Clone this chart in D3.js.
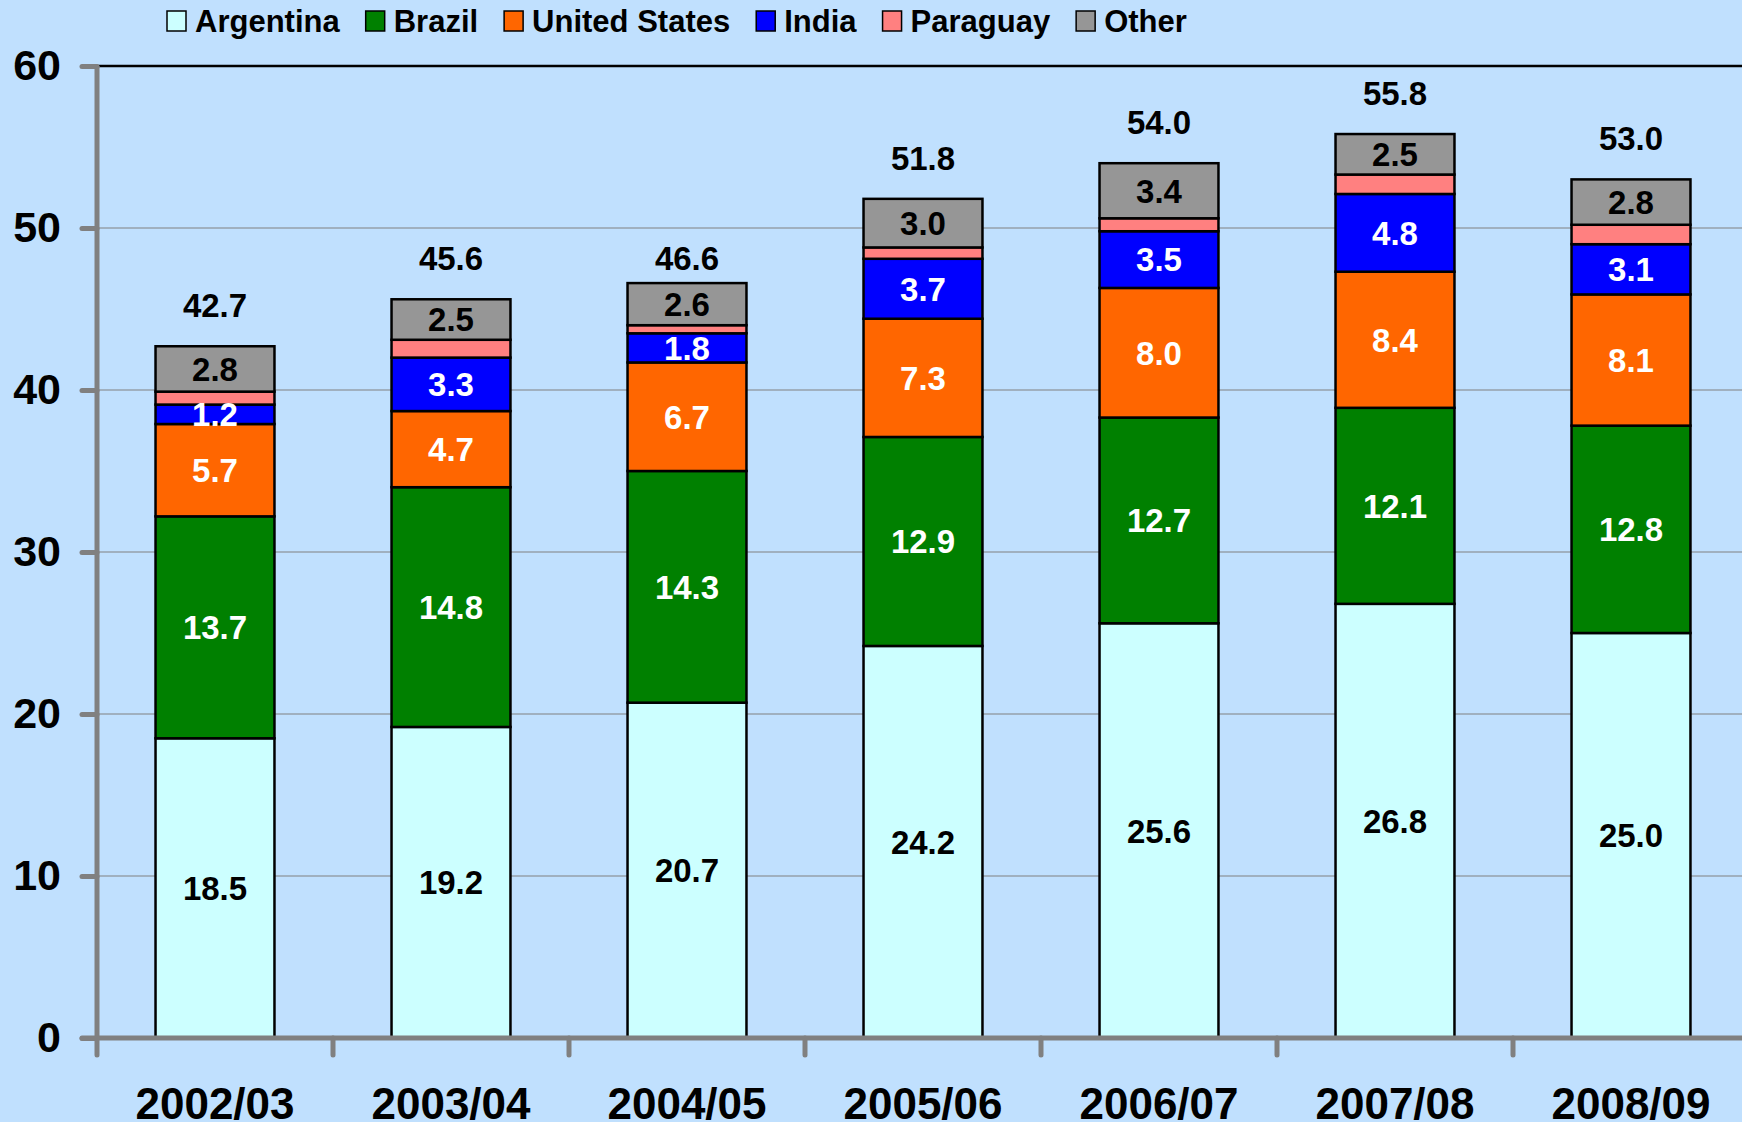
<!DOCTYPE html>
<html lang="en">
<head>
  <meta charset="UTF-8">
  <title>Soybean exports by origin</title>
  <script src="https://cdn.jsdelivr.net/npm/d3@7"></script>
  <style>
    html, body { margin: 0; padding: 0; background: #c0e0fe; overflow: hidden; }
    svg { display: block; font-family: "Liberation Sans", Arial, sans-serif; font-weight: bold; }
  </style>
</head>
<body>
  <script>
    const years = ["2002/03", "2003/04", "2004/05", "2005/06", "2006/07", "2007/08", "2008/09"];
    const seriesNames = ["Argentina", "Brazil", "United States", "India", "Paraguay", "Other"];
    const argentina = [18.5, 19.2, 20.7, 24.2, 25.6, 26.8, 25.0];
    const brazil = [13.7, 14.8, 14.3, 12.9, 12.7, 12.1, 12.8];
    const unitedStates = [5.7, 4.7, 6.7, 7.3, 8.0, 8.4, 8.1];
    const india = [1.2, 3.3, 1.8, 3.7, 3.5, 4.8, 3.1];
    const paraguay = [0.8, 1.1, 0.5, 0.7, 0.8, 1.2, 1.2];
    const other = [2.8, 2.5, 2.6, 3.0, 3.4, 2.5, 2.8];
    const totals = [42.7, 45.6, 46.6, 51.8, 54.0, 55.8, 53.0];
    const yTicks = [0, 10, 20, 30, 40, 50, 60];

    const colors = ["#ccffff", "#008000", "#ff6600", "#0000ff", "#ff8080", "#969696"];
    const labelColors = ["#000", "#fff", "#fff", "#fff", null, "#000"];
    // the 2004/05 total label sits a bit closer to its bar in the original
    const totalNudge = { "2004/05": 16 };

    const w = 1742, h = 1122;
    const plotLeft = 97, band = 236, plotTop = 66, plotBottom = 1038;

    const rows = years.map((y, i) => ({
      year: y,
      "Argentina": argentina[i],
      "Brazil": brazil[i],
      "United States": unitedStates[i],
      "India": india[i],
      "Paraguay": paraguay[i],
      "Other": other[i],
      total: totals[i]
    }));

    const stack = d3.stack().keys(seriesNames)(rows);

    const x = d3.scaleBand().domain(years).range([plotLeft, plotLeft + band * years.length]).padding(0);
    const y = d3.scaleLinear().domain([0, 60]).range([plotBottom, plotTop]);
    const barW = x.bandwidth() * 0.504;

    const svg = d3.select("body").append("svg").attr("width", w).attr("height", h);

    // gridlines
    svg.append("g").selectAll("line")
      .data(yTicks.filter(t => t > 0 && t < 60))
      .enter().append("line")
      .attr("x1", plotLeft).attr("x2", w)
      .attr("y1", d => y(d)).attr("y2", d => y(d))
      .attr("stroke", "#808080").attr("stroke-width", 1.2);

    svg.append("line")
      .attr("x1", plotLeft).attr("x2", w)
      .attr("y1", y(60)).attr("y2", y(60))
      .attr("stroke", "#000").attr("stroke-width", 2.5);

    // bars
    const layers = svg.append("g").selectAll("g")
      .data(stack).enter().append("g")
      .attr("fill", (d, i) => colors[i]);

    layers.selectAll("rect")
      .data(d => d).enter().append("rect")
      .attr("x", d => x(d.data.year) + (x.bandwidth() - barW) / 2)
      .attr("y", d => y(d[1]))
      .attr("width", barW)
      .attr("height", d => y(d[0]) - y(d[1]))
      .attr("stroke", "#000").attr("stroke-width", 2.5);

    // segment labels
    stack.forEach((layer, si) => {
      if (!labelColors[si]) return;
      svg.append("g").selectAll("text")
        .data(layer).enter().append("text")
        .attr("x", d => x(d.data.year) + x.bandwidth() / 2)
        .attr("y", d => (y(d[0]) + y(d[1])) / 2)
        .attr("dy", "0.36em")
        .attr("text-anchor", "middle")
        .attr("font-size", 33)
        .attr("fill", labelColors[si])
        .text(d => (d[1] - d[0]).toFixed(1));
    });

    // totals
    svg.append("g").selectAll("text")
      .data(rows).enter().append("text")
      .attr("x", d => x(d.year) + x.bandwidth() / 2)
      .attr("y", d => y(d.total) - 29 + (totalNudge[d.year] || 0))
      .attr("text-anchor", "middle")
      .attr("font-size", 33)
      .text(d => d.total.toFixed(1));

    // axes
    const yAxis = d3.axisLeft(y).tickValues(yTicks).tickSize(15).tickPadding(21).tickFormat(d3.format("d"));
    const gy = svg.append("g").attr("transform", "translate(" + plotLeft + ",0)").call(yAxis);
    gy.select(".domain").remove();
    gy.selectAll(".tick line").attr("stroke", "#808080").attr("stroke-width", 5).attr("stroke-linecap", "round");
    gy.selectAll(".tick text").attr("font-size", 43).attr("font-weight", "bold").attr("fill", "#000")
      .attr("font-family", "Liberation Sans, Arial, sans-serif");

    const xAxis = d3.axisBottom(x).tickSize(0).tickPadding(50);
    const gx = svg.append("g").attr("transform", "translate(0," + plotBottom + ")").call(xAxis);
    gx.select(".domain").remove();
    gx.selectAll(".tick text").attr("font-size", 44).attr("font-weight", "bold").attr("fill", "#000")
      .attr("font-family", "Liberation Sans, Arial, sans-serif");

    const bounds = years.map(yr => x(yr)).concat([x(years[years.length - 1]) + x.bandwidth()]);
    svg.append("g").selectAll("line")
      .data(bounds).enter().append("line")
      .attr("x1", d => d).attr("x2", d => d)
      .attr("y1", plotBottom).attr("y2", plotBottom + 17)
      .attr("stroke", "#808080").attr("stroke-width", 5).attr("stroke-linecap", "round");

    svg.append("line")
      .attr("x1", plotLeft).attr("x2", plotLeft)
      .attr("y1", plotTop).attr("y2", plotBottom)
      .attr("stroke", "#808080").attr("stroke-width", 5);
    svg.append("line")
      .attr("x1", 82).attr("x2", w)
      .attr("y1", plotBottom).attr("y2", plotBottom)
      .attr("stroke", "#808080").attr("stroke-width", 5).attr("stroke-linecap", "round");

    // legend
    const legend = svg.append("g").attr("transform", "translate(167,21)");
    let lx = 0;
    seriesNames.forEach((name, i) => {
      legend.append("rect")
        .attr("x", lx).attr("y", -10).attr("width", 19).attr("height", 20)
        .attr("fill", colors[i]).attr("stroke", "#000").attr("stroke-width", 1.5);
      const t = legend.append("text")
        .attr("x", lx + 28).attr("y", 0).attr("dy", "0.36em")
        .attr("font-size", 31)
        .text(name);
      lx += 28 + t.node().getComputedTextLength() + 26;
    });
  </script>
</body>
</html>
